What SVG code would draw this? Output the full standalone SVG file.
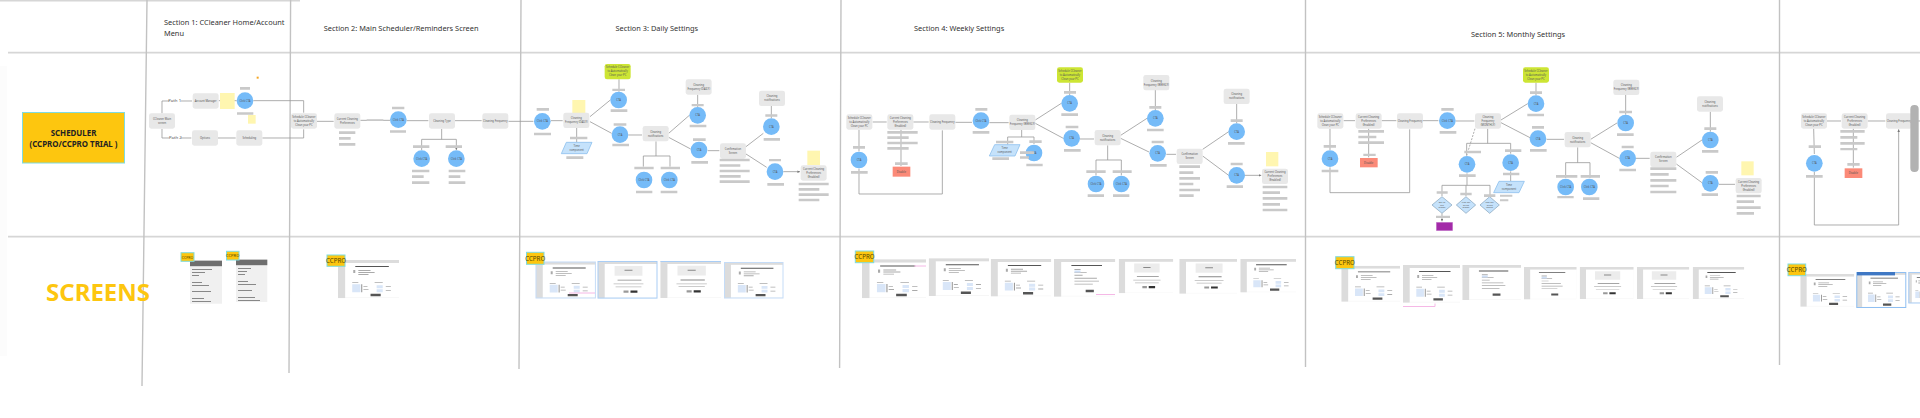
<svg xmlns="http://www.w3.org/2000/svg" xmlns:xlink="http://www.w3.org/1999/xlink" width="1920" height="418" viewBox="0 0 1920 418">
<style>
text{font-family:"Noto Sans","Open Sans",sans-serif}
.h{font-size:7.4px;fill:#333}
.n{fill:#e8e8e8;width:78px;height:46px;rx:7px}
.g{fill:#cde534;width:78px;height:46px;rx:7px}
.c{fill:#75bbf8;r:25px}
.s{fill:#fff6b0}
.b{fill:#c9c9c9}
.t{font-size:8px;fill:#555;text-anchor:middle}
.p{font-size:13px;fill:#555;text-anchor:middle}
.l{fill:none;stroke:#989898;stroke-width:2.4}
.a{marker-end:url(#ah)}
.par{fill:#c5e2fb;stroke:#8fc2ee;stroke-width:2.5}
.d{fill:#c5e2fb;stroke:#7f9fb8;stroke-width:2}
.r{fill:#fb8a78}
.tag{fill:#fdc60f;stroke:#7fdbe0;stroke-width:1}
.tt{font-size:6.2px;fill:#554800;text-anchor:middle}
.gv{stroke:#c2c2c2;stroke-width:1.4;fill:none}
.gh{stroke:#d6d6d6;stroke-width:1.8;fill:none}
</style>
<defs>
<marker id="ah" viewBox="0 0 6 6" refX="6" refY="3" markerWidth="3.2" markerHeight="3.2" orient="auto"><path d="M0 0L6 3L0 6z" fill="#777"/></marker>
<symbol id="sa" viewBox="0 0 60 38" preserveAspectRatio="none">
<rect width="60" height="38" fill="#f6f6f6"/><rect x="7" y="3" width="53" height="34" fill="#fff"/>
<path fill="#dcdcdc" d="M0 0h60v3H0zM0 3h7v35H0z"/>
<path fill="#555" d="M17 6h33v1H17zM32 33.5h10v2.4H32z"/>
<path fill="#aaa" d="M15 10h2v3h-2zM20 10h12v.8H20zM20 12h16v.8H20zM20 14h10v.8H20zM14 22h6v.8h-6zM36 22h8v.8h-8zM25 26h4v.8h-4zM25 29h5v.8h-5zM47 26h5v.8h-5zM47 30h5v.8h-5z"/>
<path fill="#d9e6f8" d="M14 24h8v8h-8zM38 25h6v3h-6zM38 29h6v3h-6z"/>
<path fill="#777" d="M23 24h.8v8H23z"/>
</symbol>
<symbol id="sb" viewBox="0 0 60 38" preserveAspectRatio="none">
<rect width="60" height="38" fill="#f8f8f8"/><rect x="7" y="3" width="53" height="34" fill="#fff"/>
<path fill="#dcdcdc" d="M0 0h60v3H0zM0 3h7v35H0z"/>
<path fill="#ececec" d="M17 5h28v10H17z"/>
<path fill="#888" d="M27 9h8v1h-8zM20 19h24v.9H20z"/>
<path fill="#bbb" d="M16 23h30v.8H16zM18 26h26v.8H18z"/>
<path fill="#333" d="M33 30h7v2.4h-7z"/><path fill="#999" d="M26 30h5v2.4h-5z"/>
</symbol>
<symbol id="sc" viewBox="0 0 60 38" preserveAspectRatio="none">
<rect width="60" height="38" fill="#f8f8f8"/><rect x="7" y="3" width="53" height="34" fill="#fff"/>
<path fill="#dcdcdc" d="M0 0h60v3H0zM0 3h7v35H0z"/>
<path fill="#555" d="M17 6h30v1H17zM31 31h8v2.4h-8z"/>
<path fill="#aaa" d="M20 10h6v1h-6zM20 13h12v.8H20zM20 16h8v.8H20zM20 19h22v.8H20zM20 22h24v.8H20zM20 25h18v.8H20z"/>
<path fill="#cfe0f7" d="M20 11.5h6v2h-6z"/>
</symbol>
</defs>
<rect x="0" y="66" width="7" height="290" fill="#fcfcfc"/>
<g id="grid">
<path class="gh" d="M0 .6H300M8 52.7H1920M8 236.7H1920"/>
<path class="gv" d="M147 0L142 386M290.6 0L289 373M521 0L519 369M841 0L839.6 368M1305.5 0L1305.5 367M1779.5 0V365"/>
</g>
<g id="connectors">
<g transform="scale(.33333)">
<path class="l a" d="M486 340V303H576M486 387V414H574M654 414H707M656 302H710M760 302H911V338M787 414H911V388M949 364H1001M1081 361H1170M1220 362H1285M1365 362H1445M1525 364H1600M1325 387V418M1265 418V450M1369 418V450"/>
<path class="l" d="M1265 418H1369"/>
</g>
<g transform="translate(540 50) scale(.33333)">
<path class="l a" d="M33 212H68M150 200L211 150M150 215L215 250M237 125V88M265 255H306M110 234V277M348 274V318M310 318V350M390 318V350M386 250L448 196M386 262L452 297M473 171V134M503 302H538M618 290L670 250M618 312L680 352M694 205V168M730 365H780"/>
<path class="l" d="M310 318H390"/>
</g>
<g transform="translate(830 50) scale(.33333)">
<path class="l a" d="M128 216H170M250 216H296M376 217H426M478 218H536M87 239V304M213 239V348M87 356V432H337V241M533 261V284M612 261V282M616 210L694 160M616 220L700 265M719 135V98M750 267H792M798 330V376M874 330V376M872 256L951 205M872 265L957 306M976 180V120M1009 313H1038M1118 298L1196 245M1118 318L1196 376M1220 220V162M1245 376H1294"/>
<path class="l" d="M575 240V261M533 261H612M833 286V330M798 330H874"/>
</g>
<g transform="translate(1300 50) scale(.33333)">
<path class="l a" d="M131 212H165M245 212H289M369 212H415M467 213H523M90 236V300M206 236V322M90 352V428H329V238M500 280V316M632 280V311M603 210L683 161M603 218L690 263M708 136V98M740 268H792M797 338V384M870 338V384M872 268L951 219M872 278L958 325M977 194V135M1008 325H1049M1129 322L1206 270M1129 342L1206 398M1231 245V185M1256 403H1305M426 406V438M498 406V438M570 406V438M426 490V514"/>
<path class="l" d="M563 236V280M500 280H632M632 364V394M501 370V406M426 406H570M833 292V338M797 338H870"/>
<path class="l" stroke-dasharray="6 4" d="M525 236L500 317"/>
</g>
<g transform="translate(1760 50) scale(.33333)">
<path class="l a" d="M201 213H243M323 213H376M161 236L163 312M280 236V353M163 366V525H416V238"/>
<path class="l" d="M456 213H480"/>
</g>
</g>
<g id="title-row">
<text class="h"><tspan x="164" y="25">Section 1: CCleaner Home/Account</tspan><tspan x="164" y="36">Menu</tspan></text>
<text class="h" x="323.7" y="31">Section 2: Main Scheduler/Reminders Screen</text>
<text class="h" x="615.5" y="31">Section 3: Daily Settings</text>
<text class="h" x="914" y="31">Section 4: Weekly Settings</text>
<text class="h" x="1471" y="37">Section 5: Monthly Settings</text>
</g>
<g id="scheduler"><rect class="tag" x="22.5" y="112.5" width="102" height="50.5"/>
<text font-size="7.9" font-weight="700" fill="#222" text-anchor="middle"><tspan x="73.5" y="135.6">SCHEDULER</tspan><tspan x="73.5" y="146.6">(CCPRO/CCPRO TRIAL )</tspan></text></g>
<text id="screens-label" x="98" y="301" font-size="24" font-weight="700" fill="#fdc60f" text-anchor="middle">SCREENS</text>

<g id="section1" transform="scale(.33333)">
<rect class="s" x="660" y="279" width="44" height="48"/><rect class="s" x="744" y="345" width="23" height="26"/><rect x="770" y="230" width="6" height="6" fill="#f5a623"/>
<rect x="508" y="296" width="34" height="14" fill="#fff"/><text class="p" x="524" y="307">Path 1</text>
<rect x="508" y="407" width="34" height="14" fill="#fff"/><text class="p" x="526" y="418">Path 2</text>
<g id="s1-main"><rect class="n" x="447" y="340"/><text class="t"><tspan x="486" y="360">CCleaner Main</tspan><tspan x="486" y="372">screen</tspan></text></g>
<g id="s1-account"><rect class="n" x="578" y="280"/><text class="t" x="617" y="306">Account Manager</text></g>
<g id="s1-options"><rect class="n" x="576" y="391"/><text class="t" x="615" y="417">Options</text></g>
<g id="s1-scheduling"><rect class="n" x="709" y="391"/><text class="t" x="748" y="417">Scheduling</text></g>
<g id="s1-cta"><circle class="c" cx="735" cy="302"/><text class="t" x="735" y="305">Click CTA</text></g>
<g id="s2-schedule"><rect class="n" x="873" y="340"/><text class="t"><tspan x="912" y="353">Schedule CCleaner</tspan><tspan x="912" y="365">to Automatically</tspan><tspan x="912" y="377">Clean your PC</tspan></text></g>
<g id="s2-current"><rect class="n" x="1003" y="340"/><text class="t"><tspan x="1042" y="360">Current Cleaning</tspan><tspan x="1042" y="372">Preferences</tspan></text></g>
<g id="s2-cta"><circle class="c" cx="1195" cy="359"/><text class="t" x="1195" y="362">Click CTA</text></g>
<g id="s2-type"><rect class="n" x="1287" y="340"/><text class="t" x="1326" y="366">Cleaning Type</text></g>
<g id="s2-frequency"><rect class="n" x="1447" y="340"/><text class="t" x="1486" y="366">Cleaning Frequency</text></g>
<g id="s2-cta2"><circle class="c" cx="1265" cy="476"/><text class="t" x="1265" y="479">Click CTA</text></g>
<g id="s2-cta3"><circle class="c" cx="1369" cy="476"/><text class="t" x="1369" y="479">Click CTA</text></g>
<g id="s3-cta0"><circle class="c" cx="1627" cy="364"/><text class="t" x="1627" y="367">Click CTA</text></g>
<path class="b" d="M720 261h30v8h-30zM711 337h49v7h-49zM1017 394h49v8h-49zM1017 411h35v8h-35zM1017 429h49v8h-49zM1176 320h37v8h-37zM1170 391h48v7h-48zM1239 436h49v8h-49zM1337 436h49v8h-49zM1236 509h52v8h-52zM1236 526h35v8h-35zM1236 544h52v8h-52zM1346 509h50v8h-50zM1346 526h35v8h-35zM1346 544h50v8h-50zM1610 324h37v8h-37zM1602 398h51v8h-51zM1100 358h50v5h-50z"/>
</g>

<g id="section3" transform="translate(540 50) scale(.33333)">
<rect class="s" x="97" y="150" width="39" height="42"/><rect class="s" x="802" y="302" width="38" height="43"/>
<g id="s3-freq"><rect class="n" x="70" y="188"/><text class="t"><tspan x="109" y="208">Cleaning</tspan><tspan x="109" y="220">Frequency (DAILY)</tspan></text></g>
<g id="s3-time"><polygon class="par" points="79,277 156,277 141,311 64,311"/><text class="t"><tspan x="110" y="291">Time</tspan><tspan x="110" y="302">component</tspan></text></g>
<g id="s3-green"><rect class="g" x="194" y="42"/><text class="t"><tspan x="233" y="55">Schedule CCleaner</tspan><tspan x="233" y="67">to Automatically</tspan><tspan x="233" y="79">Clean your PC</tspan></text></g>
<g id="s3-c1"><circle class="c" cx="236" cy="150"/><text class="t" x="236" y="153">CTA</text></g>
<g id="s3-c2"><circle class="c" cx="240" cy="254"/><text class="t" x="240" y="257">CTA</text></g>
<g id="s3-notif"><rect class="n" x="308" y="228"/><text class="t"><tspan x="347" y="248">Cleaning</tspan><tspan x="347" y="260">notifications</tspan></text></g>
<g id="s3-c3"><circle class="c" cx="312" cy="390"/><text class="t" x="312" y="393">Click CTA</text></g>
<g id="s3-c4"><circle class="c" cx="388" cy="390"/><text class="t" x="388" y="393">Click CTA</text></g>
<g id="s3-c5"><circle class="c" cx="473" cy="196"/><text class="t" x="473" y="199">CTA</text></g>
<g id="s3-freq2"><rect class="n" x="437" y="88"/><text class="t"><tspan x="476" y="108">Cleaning</tspan><tspan x="476" y="120">Frequency (DAILY)</tspan></text></g>
<g id="s3-c6"><circle class="c" cx="477" cy="300"/><text class="t" x="477" y="303">CTA</text></g>
<g id="s3-confirm"><rect class="n" x="540" y="280"/><text class="t"><tspan x="579" y="300">Confirmation</tspan><tspan x="579" y="312">Screen</tspan></text></g>
<g id="s3-c7"><circle class="c" cx="694" cy="230"/><text class="t" x="694" y="233">CTA</text></g>
<g id="s3-notif2"><rect class="n" x="657" y="122"/><text class="t"><tspan x="696" y="142">Cleaning</tspan><tspan x="696" y="154">notifications</tspan></text></g>
<g id="s3-c8"><circle class="c" cx="705" cy="365"/><text class="t" x="705" y="368">CTA</text></g>
<g id="s3-current"><rect class="n" x="782" y="346"/><text class="t"><tspan x="821" y="359">Current Cleaning</tspan><tspan x="821" y="371">Preferences</tspan><tspan x="821" y="383">(Enabled)</tspan></text></g>
<path class="b" d="M90 260h52v8H90zM79 319h51v8H79zM217 116h38v7h-38zM212 178h50v8h-50zM221 220h38v7h-38zM217 281h50v8h-50zM283 350h58v8h-58zM362 350h58v8h-58zM288 422h49v8h-49zM362 422h50v8h-50zM455 162h36v7h-36zM449 224h50v8h-50zM459 265h38v8h-38zM454 333h50v8h-50zM539 326h90v8h-90zM539 343h62v7h-62zM539 359h90v8h-90zM539 375h63v8h-63zM539 391h90v8h-90zM676 193h36v7h-36zM671 264h49v8h-49zM687 327h36v7h-36zM682 399h50v8h-50zM776 398h90v8h-90zM776 414h62v8h-62zM776 430h90v8h-90zM776 446h62v8h-62z"/>
</g>

<g id="section4" transform="translate(830 50) scale(.33333)">
<rect class="s" x="1308" y="306" width="37" height="43"/>
<g id="s4-schedule"><rect class="n" x="49" y="193"/><text class="t"><tspan x="88" y="207">Schedule CCleaner</tspan><tspan x="88" y="219">to Automatically</tspan><tspan x="88" y="231">Clean your PC</tspan></text></g>
<g id="s4-current"><rect class="n" x="172" y="193"/><text class="t"><tspan x="211" y="207">Current Cleaning</tspan><tspan x="211" y="219">Preferences</tspan><tspan x="211" y="231">(Enabled)</tspan></text></g>
<g id="s4-disable"><rect class="r" x="188" y="350" width="53" height="30"/><text class="t" x="214" y="369">Disable</text></g>
<g id="s4-freq"><rect class="n" x="298" y="193"/><text class="t" x="337" y="219">Cleaning Frequency</text></g>
<g id="s4-c0"><circle class="c" cx="87" cy="330"/><text class="t" x="87" y="333">CTA</text></g>
<g id="s4-c1"><circle class="c" cx="453" cy="212"/><text class="t" x="453" y="215">Click CTA</text></g>
<g id="s4-freq2"><rect class="n" x="538" y="194"/><text class="t"><tspan x="577" y="214">Cleaning</tspan><tspan x="577" y="226">Frequency (WEEKLY)</tspan></text></g>
<g id="s4-time"><polygon class="par" points="494,284 570,284 555,318 478,318"/><text class="t"><tspan x="524" y="298">Time</tspan><tspan x="524" y="309">component</tspan></text></g>
<g id="s4-c2"><circle class="c" cx="612" cy="309"/><text class="t" x="612" y="312">CTA</text></g>
<g id="s4-c3"><circle class="c" cx="719" cy="160"/><text class="t" x="719" y="163">CTA</text></g>
<g id="s4-green"><rect class="g" x="681" y="52"/><text class="t"><tspan x="720" y="65">Schedule CCleaner</tspan><tspan x="720" y="77">to Automatically</tspan><tspan x="720" y="89">Clean your PC</tspan></text></g>
<g id="s4-c4"><circle class="c" cx="725" cy="265"/><text class="t" x="725" y="268">CTA</text></g>
<g id="s4-notif"><rect class="n" x="794" y="240"/><text class="t"><tspan x="833" y="260">Cleaning</tspan><tspan x="833" y="272">notifications</tspan></text></g>
<g id="s4-c5"><circle class="c" cx="798" cy="402"/><text class="t" x="798" y="405">Click CTA</text></g>
<g id="s4-c6"><circle class="c" cx="874" cy="402"/><text class="t" x="874" y="405">Click CTA</text></g>
<g id="s4-c7"><circle class="c" cx="976" cy="205"/><text class="t" x="976" y="208">CTA</text></g>
<g id="s4-freq3"><rect class="n" x="940" y="75"/><text class="t"><tspan x="979" y="95">Cleaning</tspan><tspan x="979" y="107">Frequency (WEEKLY)</tspan></text></g>
<g id="s4-c8"><circle class="c" cx="983" cy="310"/><text class="t" x="983" y="313">CTA</text></g>
<g id="s4-confirm"><rect class="n" x="1040" y="296"/><text class="t"><tspan x="1079" y="316">Confirmation</tspan><tspan x="1079" y="328">Screen</tspan></text></g>
<g id="s4-c9"><circle class="c" cx="1220" cy="245"/><text class="t" x="1220" y="248">CTA</text></g>
<g id="s4-notif2"><rect class="n" x="1181" y="116"/><text class="t"><tspan x="1220" y="136">Cleaning</tspan><tspan x="1220" y="148">notifications</tspan></text></g>
<g id="s4-c10"><circle class="c" cx="1220" cy="376"/><text class="t" x="1220" y="379">CTA</text></g>
<g id="s4-current2"><rect class="n" x="1296" y="356"/><text class="t"><tspan x="1335" y="370">Current Cleaning</tspan><tspan x="1335" y="382">Preferences</tspan><tspan x="1335" y="394">(Enabled)</tspan></text></g>
<path class="b" d="M172 243h91v8h-91zM172 259h64v8h-64zM172 275h91v8h-91zM172 291h64v8h-64zM195 337h38v8h-38zM69 288h36v8H69zM63 363h50v8H63zM436 174h36v8h-36zM428 243h50v8h-50zM498 272h52v8h-52zM598 271h37v8h-37zM487 322h50v8h-50zM589 341h49v8h-49zM570 304h42v8h-42zM570 319h27v7h-27zM702 123h36v8h-36zM694 190h50v8h-50zM707 227h38v8h-38zM702 297h50v8h-50zM769 361h58v8h-58zM848 361h57v8h-57zM773 433h49v8h-49zM849 433h49v8h-49zM958 168h36v8h-36zM951 236h50v8h-50zM965 272h36v8h-36zM960 342h50v8h-50zM1048 346h62v8h-62zM1048 364h42v8h-42zM1048 381h62v8h-62zM1048 398h42v8h-42zM1048 416h62v8h-62zM1048 433h43v8h-43zM1202 208h36v8h-36zM1194 276h50v8h-50zM1202 338h36v8h-36zM1190 406h49v8h-49zM1298 407h74v8h-74zM1298 424h52v8h-52zM1298 441h74v8h-74zM1298 459h52v8h-52zM1298 476h74v8h-74z"/>
</g>

<g id="section5" transform="translate(1300 50) scale(.33333)">
<rect class="s" x="1324" y="334" width="37" height="42"/>
<g id="s5-schedule"><rect class="n" x="52" y="190"/><text class="t"><tspan x="91" y="204">Schedule CCleaner</tspan><tspan x="91" y="216">to Automatically</tspan><tspan x="91" y="228">Clean your PC</tspan></text></g>
<g id="s5-current"><rect class="n" x="167" y="190"/><text class="t"><tspan x="206" y="204">Current Cleaning</tspan><tspan x="206" y="216">Preferences</tspan><tspan x="206" y="228">(Enabled)</tspan></text></g>
<g id="s5-disable"><rect class="r" x="180" y="324" width="53" height="28"/><text class="t" x="206" y="342">Disable</text></g>
<g id="s5-freq"><rect class="n" x="291" y="190"/><text class="t" x="330" y="216">Cleaning Frequency</text></g>
<g id="s5-c0"><circle class="c" cx="90" cy="326"/><text class="t" x="90" y="329">CTA</text></g>
<g id="s5-c1"><circle class="c" cx="442" cy="212"/><text class="t" x="442" y="215">Click CTA</text></g>
<g id="s5-freq2"><rect class="n" x="525" y="190"/><text class="t"><tspan x="564" y="204">Cleaning</tspan><tspan x="564" y="216">Frequency</tspan><tspan x="564" y="228">(MONTHLY)</tspan></text></g>
<g id="s5-c2"><circle class="c" cx="501" cy="343"/><text class="t" x="501" y="346">CTA</text></g>
<g id="s5-c3"><circle class="c" cx="632" cy="338"/><text class="t" x="632" y="341">CTA</text></g>
<g id="s5-time"><polygon class="par" points="597,394 673,394 657,428 581,428"/><text class="t"><tspan x="627" y="408">Time</tspan><tspan x="627" y="419">component</tspan></text></g>
<g id="s5-d1"><polygon class="d" points="426,440 456,465 426,490 396,465"/><text class="t" style="font-size:6.5px"><tspan x="426" y="460">Day of</tspan><tspan x="426" y="467">the</tspan><tspan x="426" y="474">month</tspan></text></g>
<g id="s5-d2"><polygon class="d" points="498,440 527,465 498,490 469,465"/><text class="t" style="font-size:6.5px"><tspan x="498" y="460">First day</tspan><tspan x="498" y="467">of the</tspan><tspan x="498" y="474">month</tspan></text></g>
<g id="s5-d3"><polygon class="d" points="569,440 598,465 569,490 540,465"/><text class="t" style="font-size:6.5px"><tspan x="569" y="460">Last day</tspan><tspan x="569" y="467">of the</tspan><tspan x="569" y="474">month</tspan></text></g>
<rect id="s5-purple" x="409" y="517" width="49" height="25" fill="#a32aa8" stroke="#c77fd0"/>
<g id="s5-c4"><circle class="c" cx="708" cy="161"/><text class="t" x="708" y="164">CTA</text></g>
<g id="s5-green"><rect class="g" x="669" y="52"/><text class="t"><tspan x="708" y="65">Schedule CCleaner</tspan><tspan x="708" y="77">to Automatically</tspan><tspan x="708" y="89">Clean your PC</tspan></text></g>
<g id="s5-c5"><circle class="c" cx="714" cy="266"/><text class="t" x="714" y="269">CTA</text></g>
<g id="s5-notif"><rect class="n" x="794" y="246"/><text class="t"><tspan x="833" y="266">Cleaning</tspan><tspan x="833" y="278">notifications</tspan></text></g>
<g id="s5-c6"><circle class="c" cx="797" cy="411"/><text class="t" x="797" y="414">Click CTA</text></g>
<g id="s5-c7"><circle class="c" cx="868" cy="411"/><text class="t" x="868" y="414">Click CTA</text></g>
<g id="s5-c8"><circle class="c" cx="977" cy="219"/><text class="t" x="977" y="222">CTA</text></g>
<g id="s5-freq3"><rect class="n" x="940" y="89"/><text class="t"><tspan x="979" y="109">Cleaning</tspan><tspan x="979" y="121">Frequency (WEEKLY)</tspan></text></g>
<g id="s5-c9"><circle class="c" cx="983" cy="325"/><text class="t" x="983" y="328">CTA</text></g>
<g id="s5-confirm"><rect class="n" x="1051" y="305"/><text class="t"><tspan x="1090" y="325">Confirmation</tspan><tspan x="1090" y="337">Screen</tspan></text></g>
<g id="s5-c10"><circle class="c" cx="1231" cy="270"/><text class="t" x="1231" y="273">CTA</text></g>
<g id="s5-notif2"><rect class="n" x="1191" y="139"/><text class="t"><tspan x="1230" y="159">Cleaning</tspan><tspan x="1230" y="171">notifications</tspan></text></g>
<g id="s5-c11"><circle class="c" cx="1231" cy="400"/><text class="t" x="1231" y="403">CTA</text></g>
<g id="s5-current2"><rect class="n" x="1307" y="384"/><text class="t"><tspan x="1346" y="398">Current Cleaning</tspan><tspan x="1346" y="410">Preferences</tspan><tspan x="1346" y="422">(Enabled)</tspan></text></g>
<path class="b" d="M175 240h77v8h-77zM175 257h54v8h-54zM175 274h77v8h-77zM190 311h37v7h-37zM71 285h37v8H71zM65 359h50v8H65zM424 174h37v8h-37zM419 243h50v8h-50zM493 302h50v8h-50zM615 298h49v8h-49zM477 373h50v8h-50zM609 368h49v8h-49zM600 434h37v6h-37zM600 448h25v6h-25zM410 424h33v7h-33zM481 428h34v8h-34zM552 433h34v8h-34zM408 497h42v7h-42zM690 124h36v8h-36zM682 191h50v8h-50zM696 228h36v8h-36zM690 297h50v8h-50zM768 375h64v8h-64zM842 375h58v8h-58zM772 438h49v7h-49zM849 442h49v8h-49zM958 182h38v8h-38zM951 250h50v8h-50zM965 287h36v8h-36zM958 356h50v8h-50zM1051 352h78v8h-78zM1051 369h55v8h-55zM1051 387h78v8h-78zM1051 404h55v8h-55zM1051 422h78v8h-78zM1213 232h36v8h-36zM1206 300h49v8h-49zM1217 363h37v8h-37zM1205 430h49v8h-49zM1310 434h72v8h-72zM1310 451h52v8h-52zM1310 469h72v8h-72zM1310 486h52v8h-52z"/>
</g>

<g id="section6" transform="translate(1760 50) scale(.33333)">
<g id="s6-schedule"><rect class="n" x="123" y="190"/><text class="t"><tspan x="162" y="204">Schedule CCleaner</tspan><tspan x="162" y="216">to Automatically</tspan><tspan x="162" y="228">Clean your PC</tspan></text></g>
<g id="s6-current"><rect class="n" x="245" y="190"/><text class="t"><tspan x="284" y="204">Current Cleaning</tspan><tspan x="284" y="216">Preferences</tspan><tspan x="284" y="228">(Enabled)</tspan></text></g>
<g id="s6-freq"><rect class="n" x="378" y="190"/><text class="t" x="417" y="216">Cleaning Frequency</text></g>
<g id="s6-disable"><rect class="r" x="254" y="355" width="53" height="29"/><text class="t" x="280" y="373">Disable</text></g>
<g id="s6-c0"><circle class="c" cx="163" cy="340"/><text class="t" x="163" y="343">CTA</text></g>
<rect id="s6-bar" x="451" y="165" width="25" height="201" rx="12" fill="#b2b2b2"/>
<path class="b" d="M241 240h73v8h-73zM241 258h51v8h-51zM241 276h73v8h-73zM241 294h51v7h-51zM262 339h37v8h-37zM146 286h37v8h-37zM138 375h50v8h-50z"/>
</g>

<g id="screens">
<g id="sec1-screens">
<rect x="190" y="260" width="32" height="43.7" fill="#f0f0f0"/><rect x="190" y="260.7" width="32" height="5.5" fill="#6e6e6e"/>
<path fill="#888" d="M192 269h20v.9h-20zM192 272h13v.9h-13zM192 275h7v.9h-7zM192 282h10v.9h-10zM192 285h17v.9h-17zM192 291h19v.9h-19zM192 298h12v.9h-12zM192 301h19v.9h-19z"/>
<rect x="236" y="259" width="31.3" height="43" fill="#f0f0f0"/><rect x="236" y="259.7" width="31.3" height="5.5" fill="#6e6e6e"/>
<path fill="#888" d="M238 268h13v.9h-13zM238 271h9v.9h-9zM238 274h7v.9h-7zM238 281h10v.9h-10zM238 284h18v.9h-18zM238 290h14v.9h-14zM238 297h17v.9h-17zM238 300h22v.9h-22z"/>
<rect class="tag" x="181" y="252.7" width="13" height="8.6"/><text class="tt" x="187.5" y="258.6" style="font-size:3.5px">CCPRO</text>
<rect class="tag" x="226.5" y="251.3" width="12.5" height="8.7"/><text class="tt" x="232.7" y="257.4" style="font-size:4.2px">CCPRO</text>
</g>
<g id="sec2-screens">
<use href="#sa" x="338" y="260" width="61" height="38.3"/>
<rect class="tag" x="327" y="255" width="18" height="11.3"/><text class="tt" x="336" y="263">CCPRO</text>
</g>
<g id="sec3-screens">
<use href="#sa" x="535.7" y="261.7" width="60" height="36.6"/><rect x="536" y="262" width="59.4" height="36" fill="none" stroke="#c5dcf7"/>
<use href="#sb" x="597.7" y="261" width="59.6" height="37.3"/><rect x="598" y="261.5" width="59" height="36.6" fill="none" stroke="#a9cdf5"/>
<use href="#sb" x="660.3" y="261" width="60.7" height="37"/><path d="M660.5 261.5H721" stroke="#a9cdf5" fill="none"/>
<use href="#sa" x="724" y="262" width="59.3" height="36.3"/><rect x="724.5" y="262.5" width="58.5" height="35.5" fill="none" stroke="#c5dcf7"/>
<path stroke="#f5b8e6" fill="none" d="M569 293h26"/>
<rect class="tag" x="526.5" y="252.3" width="17.5" height="12"/><text class="tt" x="535.2" y="260.6">CCPRO</text>
</g>
<g id="sec4-screens">
<use href="#sa" x="862" y="259.3" width="64" height="39"/>
<use href="#sa" x="928.7" y="258.3" width="60.3" height="37.7"/>
<use href="#sa" x="990.7" y="259" width="60.6" height="37.5"/>
<use href="#sc" x="1054" y="259" width="61.3" height="37.7"/>
<use href="#sb" x="1118.7" y="259" width="54.6" height="34.3"/>
<use href="#sb" x="1179.3" y="259" width="57.7" height="34.7"/>
<use href="#sa" x="1240.3" y="259" width="55.7" height="33.5"/>
<path stroke="#f5b8e6" fill="none" d="M1096 294.5h19M914 266h12"/>
<rect class="tag" x="855.3" y="251" width="18.4" height="11.7"/><text class="tt" x="864.5" y="259.1">CCPRO</text>
</g>
<g id="sec5-screens">
<use href="#sa" x="1341.3" y="265.7" width="58.7" height="36"/>
<use href="#sa" x="1403" y="265" width="57" height="37.7"/>
<use href="#sc" x="1462.3" y="265" width="58.7" height="35"/>
<use href="#sc" x="1524" y="267" width="52.7" height="32.5"/>
<use href="#sb" x="1579.7" y="267" width="54" height="32"/>
<use href="#sb" x="1637" y="267" width="52.3" height="32"/>
<use href="#sa" x="1692.7" y="267" width="51.6" height="32"/>
<path stroke="#f5b8e6" fill="none" d="M1403 306.5h32v-3"/>
<rect class="tag" x="1335.7" y="256.7" width="18.3" height="12"/><text class="tt" x="1344.8" y="264.9">CCPRO</text>
</g>
<g id="sec6-screens">
<use href="#sa" x="1800.3" y="274" width="54" height="32.7"/>
<use href="#sa" x="1856.3" y="272" width="50" height="35.7"/><rect x="1856.8" y="272.5" width="49" height="35" fill="none" stroke="#8fbff2"/><rect x="1857" y="272" width="38" height="3.4" fill="#3f78c4"/>
<use href="#sa" x="1908.3" y="272" width="30" height="31"/><rect x="1908.8" y="272.5" width="30" height="30.5" fill="none" stroke="#a9cdf5"/>
<rect class="tag" x="1788" y="264" width="17.7" height="11.7"/><text class="tt" x="1796.8" y="272">CCPRO</text>
</g>
</g>
</svg>
